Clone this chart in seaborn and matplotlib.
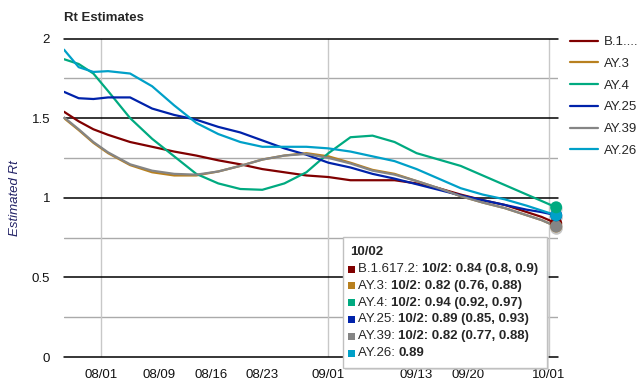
import matplotlib.pyplot as plt
import matplotlib.dates as mdates
import numpy as np
import pandas as pd
import seaborn as sns
from matplotlib.patches import Rectangle

# days after 2021-07-27
day_offsets = [0, 2, 4, 6, 9, 12, 15, 18, 21, 24, 27, 30, 33, 36, 39, 42, 45, 48, 51, 54, 57, 60, 63, 65, 67]

b16172 = [1.54, 1.48, 1.43, 1.395, 1.35, 1.32, 1.29, 1.265, 1.235, 1.21, 1.18, 1.16, 1.14,
          1.13, 1.11, 1.11, 1.11, 1.09, 1.06, 1.02, 0.985, 0.955, 0.91, 0.88, 0.84]
ay3 = [1.50, 1.425, 1.345, 1.28, 1.205, 1.16, 1.14, 1.14, 1.165, 1.20, 1.24, 1.265, 1.28,
       1.26, 1.22, 1.175, 1.15, 1.105, 1.06, 1.01, 0.97, 0.935, 0.89, 0.86, 0.82]
ay4 = [1.87, 1.84, 1.78, 1.67, 1.50, 1.37, 1.26, 1.15, 1.09, 1.055, 1.05, 1.09, 1.16,
       1.28, 1.38, 1.39, 1.35, 1.28, 1.24, 1.20, 1.14, 1.08, 1.02, 0.98, 0.94]
ay25 = [1.665, 1.625, 1.62, 1.63, 1.63, 1.56, 1.52, 1.49, 1.445, 1.41, 1.36, 1.31, 1.27,
        1.22, 1.19, 1.15, 1.12, 1.085, 1.05, 1.015, 0.985, 0.955, 0.925, 0.91, 0.89]
ay39 = [1.505, 1.43, 1.35, 1.285, 1.21, 1.17, 1.15, 1.145, 1.165, 1.20, 1.24, 1.265, 1.275,
        1.25, 1.215, 1.17, 1.145, 1.105, 1.06, 1.01, 0.97, 0.935, 0.89, 0.86, 0.82]
ay26 = [1.93, 1.82, 1.79, 1.795, 1.78, 1.70, 1.58, 1.47, 1.40, 1.35, 1.32, 1.32, 1.32,
        1.31, 1.29, 1.26, 1.23, 1.18, 1.12, 1.06, 1.02, 0.99, 0.95, 0.92, 0.89]

variants = ["B.1.617.2", "AY.3", "AY.4", "AY.25", "AY.39", "AY.26"]
legend_labels = ["B.1....", "AY.3", "AY.4", "AY.25", "AY.39", "AY.26"]
colors = ["#800000", "#b8801f", "#00aa80", "#0022aa", "#858585", "#00a0c8"]
tick_dates = ["2021-08-01", "2021-08-09", "2021-08-16", "2021-08-23",
              "2021-09-01", "2021-09-13", "2021-09-20", "2021-10-01"]

tooltip_title = "10/02"
tooltip_names = ["B.1.617.2: ", "AY.3: ", "AY.4: ", "AY.25: ", "AY.39: ", "AY.26: "]
tooltip_vals = ["10/2: 0.84 (0.8, 0.9)", "10/2: 0.82 (0.76, 0.88)", "10/2: 0.94 (0.92, 0.97)",
                "10/2: 0.89 (0.85, 0.93)", "10/2: 0.82 (0.77, 0.88)", "0.89"]

start = pd.Timestamp("2021-07-27")
dates = [start + pd.Timedelta(days=d) for d in day_offsets]
series = [b16172, ay3, ay4, ay25, ay39, ay26]
df = pd.concat(
    [pd.DataFrame({"date": dates, "rt": vals, "variant": name}) for name, vals in zip(variants, series)],
    ignore_index=True,
)

sns.set_style("white")
plt.rcParams["font.family"] = ["Liberation Sans", "DejaVu Sans"]

W, H = 643, 390
fig = plt.figure(figsize=(W / 100, H / 100), dpi=100)
ax = fig.add_axes([64 / W, 1 - 357 / H, (558 - 64) / W, (357 - 38.5) / H])

palette = dict(zip(variants, colors))
sns.lineplot(data=df, x="date", y="rt", hue="variant", hue_order=variants,
             palette=palette, linewidth=1.6, ax=ax, zorder=3)

last = df[df["date"] == dates[-1]]
for name in ["B.1.617.2", "AY.3", "AY.39", "AY.25", "AY.26", "AY.4"]:
    row = last[last["variant"] == name]
    ax.scatter(row["date"], row["rt"] - 0.012, s=80, color="#bbbbbb", alpha=0.6,
               zorder=4, clip_on=False, linewidths=0)
    sns.scatterplot(data=row, x="date", y="rt", color=palette[name], s=75,
                    edgecolor="none", ax=ax, zorder=5, clip_on=False, legend=False)

ax.set_ylim(0, 2)
ax.set_xlim(start, dates[-1] + pd.Timedelta(hours=6))
ax.set_yticks([0, 0.5, 1, 1.5, 2])
ax.set_yticklabels(["0", "0.5", "1", "1.5", "2"])
ax.set_yticks([0.25, 0.75, 1.25, 1.75], minor=True)
for y in [0, 0.5, 1, 1.5, 2]:
    ax.axhline(y, color="black", lw=1.1, zorder=2, clip_on=False)
for y in [0.25, 0.75, 1.25, 1.75]:
    ax.axhline(y, color="#aaaaaa", lw=1.0, zorder=1)
for d in ["2021-08-01", "2021-09-01", "2021-10-01"]:
    ax.axvline(pd.Timestamp(d), color="#c8c8c8", lw=1.0, zorder=1)

ax.set_xticks([pd.Timestamp(d) for d in tick_dates])
ax.xaxis.set_major_formatter(mdates.DateFormatter("%m/%d"))
ax.tick_params(axis="x", length=0, pad=9, labelsize=9.5, colors="#111111")
ax.tick_params(axis="y", which="both", length=0, pad=10, labelsize=9.5, colors="#111111")
sns.despine(ax=ax, left=True, bottom=True, top=True, right=True)
ax.grid(False)

ax.set_xlabel("")
ax.set_ylabel("Estimated Rt", fontstyle="italic", color="#222266", fontsize=9.5)
ax.yaxis.set_label_coords(-43 / (558 - 64), 0.5)
fig.text(64 / W, 1 - 18 / H, "Rt Estimates", fontweight="bold", fontsize=9.5, va="center", ha="left")

handles, _ = ax.get_legend_handles_labels()
ax.legend_.remove()
fig.legend(handles, legend_labels, loc="upper left", bbox_to_anchor=(570 / W, 1 - 36 / H),
           frameon=False, fontsize=9.5, handlelength=2.1, handletextpad=0.5,
           labelspacing=0.72, borderpad=0, borderaxespad=0)

# tooltip box
bx0, by0, bx1, by1 = 343, 237, 547, 368
fig.add_artist(Rectangle(((bx0 + 2) / W, 1 - (by1 + 2) / H), (bx1 - bx0) / W, (by1 - by0) / H,
                         transform=fig.transFigure, facecolor="#cccccc", alpha=0.6,
                         edgecolor="none", zorder=6))
fig.add_artist(Rectangle((bx0 / W, 1 - by1 / H), (bx1 - bx0) / W, (by1 - by0) / H,
                         transform=fig.transFigure, facecolor="white",
                         edgecolor="#c0c0c0", lw=1.0, zorder=7))
fig.text(350 / W, 1 - 252 / H, tooltip_title, fontweight="bold", fontsize=9.5,
         va="center", ha="left", zorder=8)

fig.canvas.draw()
renderer = fig.canvas.get_renderer()
for i, (name, val) in enumerate(zip(tooltip_names, tooltip_vals)):
    yy = 269 + i * 16.8
    fig.add_artist(Rectangle((348 / W, 1 - (yy + 3.5) / H), 7 / W, 7 / H, transform=fig.transFigure,
                             facecolor=colors[i], edgecolor="none", zorder=8))
    t = fig.text(358 / W, 1 - yy / H, name, fontsize=9.5, va="center", ha="left", zorder=8)
    bb = t.get_window_extent(renderer)
    fig.text(bb.x1 / fig.bbox.width, 1 - yy / H, val, fontsize=9.5, fontweight="bold",
             va="center", ha="left", zorder=8)

fig.savefig("out.png", dpi=100)
